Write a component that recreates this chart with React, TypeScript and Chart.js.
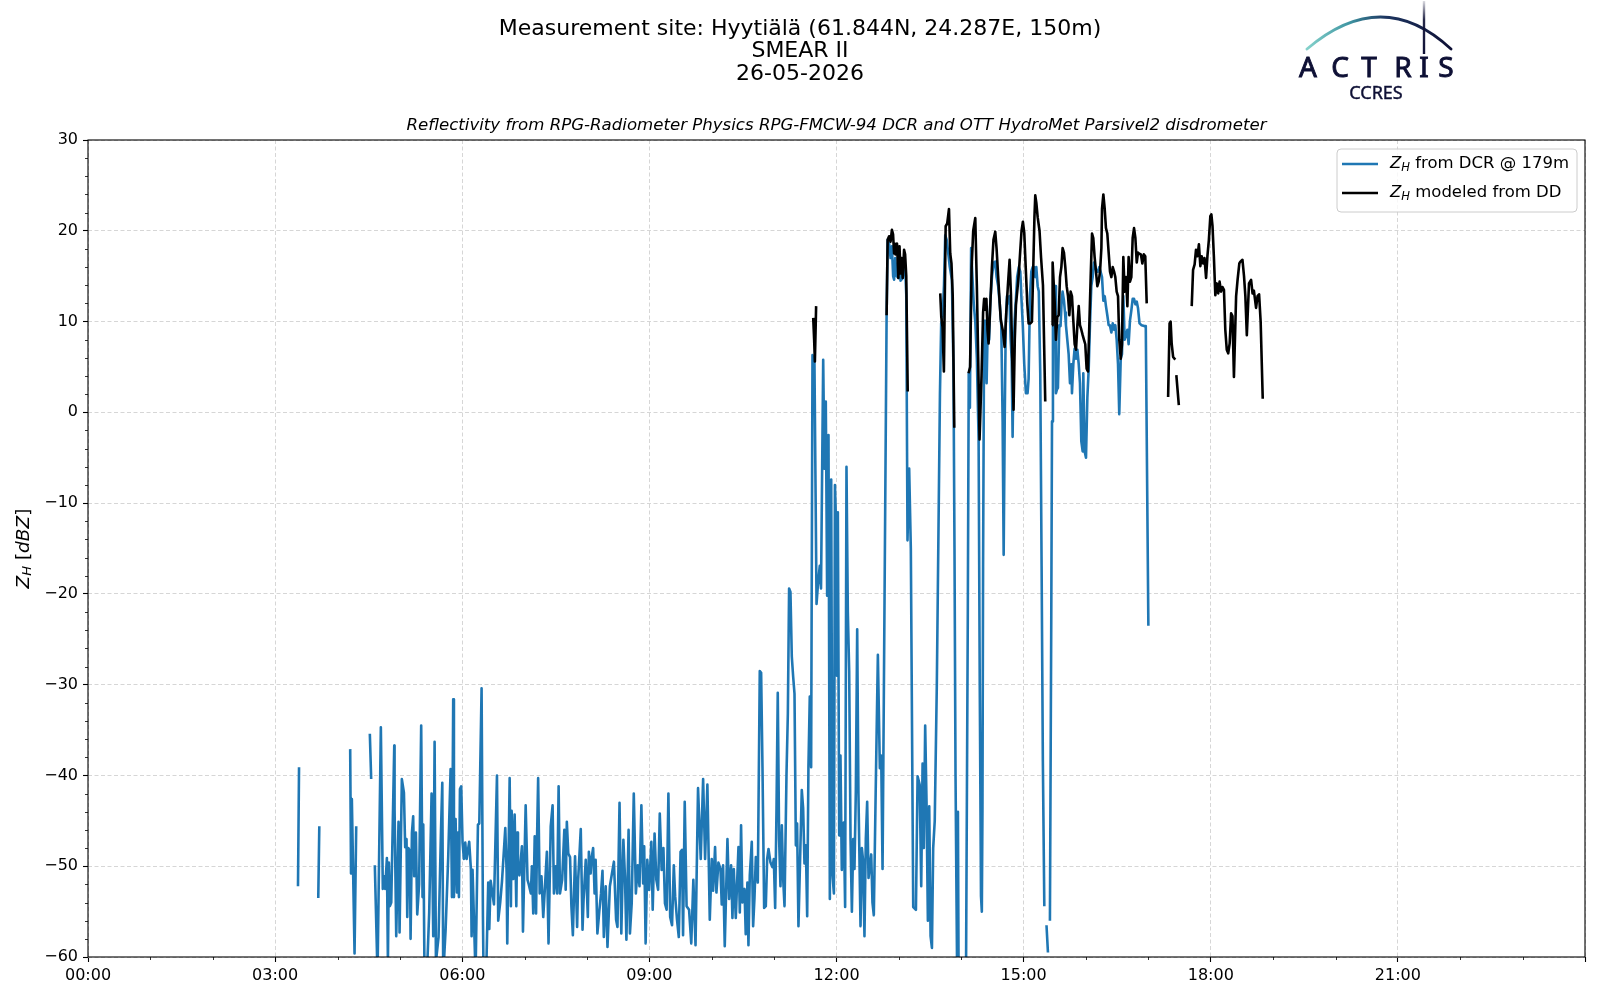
import React, { useEffect, useRef } from 'react';
import { Chart, registerables } from 'chart.js';

Chart.register(...registerables);

// ---------- DATA (time in minutes since 00:00, reflectivity in dBZ) ----------
// DCR (blue) runs, separated by data gaps
const dcrRun1 = [[202, -52.2], [203, -39.1]];
const dcrRun2 = [[221.5, -53.5], [222.5, -45.6]];
const dcrRun3 = [[252.2, -37.1], [253, -50.8], [253.8, -42.6], [256.4, -59.6], [258, -45.6]];
const dcrRun4 = [[271.1, -35.4], [272.4, -40.4]];
const dcrMorning = [
  [275.9, -49.9], [278.5, -62], [281.7, -34.7], [283.6, -52.5], [284.9, -51.1], [285.9, -52.5], [287.5, -49.1], [288.5, -60.5],
  [289.4, -49.6], [290.4, -54.4], [291.7, -54], [294.6, -36.7], [294.9, -43.7], [296.5, -57.7], [298.7, -45.1], [299.7, -57.3],
  [301.9, -40.4], [303.9, -41.9], [305.1, -47.9], [306.4, -47], [307.1, -55.6], [308.2, -48], [309.6, -48.3], [310.3, -58],
  [311.6, -46.3], [312.8, -44.5], [313.8, -51.1], [315.4, -46.3], [316.7, -55.3], [318.5, -52], [320.5, -34.5], [321.8, -53.4],
  [322.5, -45.4], [323.7, -62], [326, -62], [328.2, -55.1], [330.5, -42], [332.1, -57.7], [333.4, -36.3], [334.7, -60.5],
  [337.2, -57.8], [339.5, -46.3], [340.8, -40.8], [341.7, -62], [344, -57], [346.5, -49], [348.8, -39.3], [350.1, -53.4],
  [351.3, -31.6], [352, -53.4], [353.6, -44.8], [354.9, -52.9], [355.8, -46.3], [356.8, -53.4], [357.8, -41.5], [359, -41.2],
  [360.3, -47.4], [361.6, -49.2], [362.9, -47.4], [364.2, -49.2], [366.7, -47.3], [368.3, -50.3], [369, -57.7], [369.9, -50.4],
  [372.8, -62], [375.1, -45.4], [376.4, -45.3], [378.6, -30.4], [379.9, -55.6], [380.5, -62], [383, -62], [385, -51.8],
  [386, -56.9], [387.3, -51.6], [390.5, -54.2], [393.4, -40], [394.6, -56], [396.5, -54], [398.2, -51.7], [401.4, -45.8],
  [402.7, -50.7], [403.3, -58.5], [405.6, -40.3], [406.8, -54.4], [407.5, -43.9], [409.1, -51.4], [410.4, -44.3], [412, -54.4],
  [412.9, -46.3], [413.6, -50.4], [415, -51], [417.4, -47.8], [418.4, -57.2], [421, -43.3], [422.8, -51.5], [424, -52],
  [426, -53], [427, -50], [428.3, -55.2], [429.7, -46.7], [431, -55.2], [432, -46.7], [433, -40.3], [434.5, -53],
  [436.2, -51.1], [437.9, -55.6], [439.6, -52.2], [441.4, -48.4], [443, -58.5], [445.1, -45.6], [446.9, -43.3], [448.2, -53],
  [450, -50], [451.3, -53], [452.7, -41.2], [454, -53], [456.1, -51.5], [458.2, -46], [459.5, -52.6], [460.6, -45.1],
  [462, -48.6], [463.7, -49], [465, -54.4], [466.4, -57.6], [468.5, -48.9], [470.5, -56.7], [471.5, -51.5], [474, -45.9],
  [475.7, -57], [476.7, -53.7], [478.8, -49.3], [480.8, -55.6],
];
const dcrLateMorning = [
  [481.8, -48.4], [483.5, -50.8], [484.2, -49.3], [485.9, -48], [487.3, -53], [488.3, -49.3], [490, -57.4], [491.8, -55],
  [493.5, -53], [494.9, -50.5], [496.2, -57.8], [498, -52.2], [499.7, -58.9], [502, -52.2], [504, -50.8], [505.9, -49.5],
  [508, -55.9], [509.3, -56.7], [511.3, -43], [513, -57.4], [515, -47.1], [516.5, -51.1], [517.9, -58.1], [520, -46],
  [521.3, -57.4], [523, -54.1], [525, -42], [527, -53], [528.8, -49.9], [530.5, -52.2], [532.3, -43.3], [534, -51.9],
  [535, -47.8], [536.4, -58.5], [538, -49.3], [539.8, -52.6], [541.9, -47.3], [543.2, -54.8], [545, -46.4], [546.7, -51.5],
  [548.4, -52.6], [550, -44.2], [551.8, -50.4], [553.5, -48], [555, -54.1], [556.6, -54.8], [558.3, -42], [560, -55.6],
  [561.8, -56.5], [563.5, -49.9], [564.8, -53.3], [566.6, -55.9], [568.3, -57.8], [570, -48.4], [571.4, -48.2], [572.4, -57.6],
  [574, -42.9], [575.8, -54.4], [578.2, -54.8], [580.3, -58.5], [582.3, -51.5], [584.4, -58.7], [586.8, -41.4], [589.4, -49.2],
  [591.7, -40.4], [593.6, -49.2], [595.8, -41], [598.1, -55.9], [600, -49.2], [601.3, -52.7], [603.2, -47.9], [604.5, -52.9],
  [606.4, -49.6], [608.4, -50.3], [609.6, -54.2], [610.9, -49.9], [612.5, -58.8], [615.1, -47], [616.7, -53.6], [618.6, -49.9],
  [619.9, -55.7], [621.2, -50.3], [623.1, -55.7], [625.7, -47.9], [627, -55.1], [628.2, -45.5], [629.5, -54], [631.5, -52.5],
  [632.7, -57.5], [634.3, -51.8], [635.3, -58.7], [636.6, -51], [638.5, -47.3], [639.8, -56.6], [641.1, -53.5], [642.4, -49],
  [644.3, -51.8],
];
const dcrNoon = [
  [646.2, -28.5], [647.5, -28.7], [648.8, -39.1], [650.4, -54.6], [652, -54.4], [653.3, -49.2], [654.6, -48.1], [656.5, -49.6],
  [658.4, -50.1], [659.7, -49.2], [661, -54.6], [662.3, -43.6], [663.5, -30.9], [664.8, -47], [666.1, -52.2], [667.4, -45.5],
  [668.7, -51.4], [670, -54.4], [671.9, -39.9], [673.2, -33.2], [674.4, -19.4], [675.7, -19.8], [677, -26.9], [678.3, -29.1],
  [679.6, -31], [680.9, -47.7], [682.1, -45.3], [683.4, -56.6], [685.4, -47.3], [686.6, -41.6], [687.9, -43.6], [689.2, -49.7],
  [690.5, -47.7], [691.8, -55.5], [693, -39.1], [694.3, -31.3], [695.6, -39.1], [696.9, 6.3], [698.8, 5.4], [700.8, -21.1],
  [702, -19.2], [703.9, -16.9], [705.1, -19.4], [707.2, 5.8], [708.4, -6.2], [709.7, 1.2], [711, -20.2], [712.3, -2.5],
  [713.6, -53.6], [714.9, -7.4], [716.1, -50.9], [717.5, -53], [718.5, -8], [719.5, -12], [720.3, -29], [721.3, -11],
  [722.6, -46.6], [723.8, -37.8], [725.1, -50.4], [727, -45.2], [728.3, -54.5], [729.6, -6], [730.9, -22], [732.2, -28.5],
  [733.5, -47], [734.8, -55], [736.1, -47], [737.3, -50.3], [738.6, -41.7], [739.9, -23.9], [741.1, -42], [743.1, -56.6],
  [744.4, -48], [745.6, -49.4], [746.9, -57.7], [748.2, -47], [749.5, -42.9], [750.8, -51.3], [753.4, -48.7], [754.6, -54],
  [755.9, -55.4], [757.8, -41], [759.8, -26.7], [761.7, -39.2], [763, -37.8], [764.3, -50.3], [765.5, -31.8],
];
const dcrAfternoon = [
  [768.2, 10.7], [769.2, 19], [770.6, 18.6], [772, 17], [773.3, 18.3], [774.5, 15], [775.4, 14.6], [776.5, 17],
  [778, 15], [779.5, 14.8], [780.6, 17.5], [781.6, 14.5], [783.7, 14.8], [785, 17], [786, 16], [787.1, 13],
  [788.3, -14.1], [789.9, -6.2], [791.5, -15], [793.8, -54.5], [796.4, -54.8], [798, -40.1], [800, -41], [801.5, -52.2],
  [802.8, -38.7], [804, -48], [805.3, -34.5], [806.6, -42.9], [807.9, -56], [809.2, -43.4], [810.5, -57.7], [811.8, -59],
  [813, -48], [814.5, -45], [816.5, -30], [818, -14], [819.5, 2], [820.7, 9.8], [822, 10.5], [823.4, 14],
  [824.6, 19.5], [826, 19], [827.5, 17.5], [829, 16], [831, 14.6], [832.5, 5], [833.5, -15], [834.5, -40],
  [835.5, -54.4], [836.2, -64], [836.8, -44], [837.5, -64], [844.5, -64], [846.3, -22.4], [847.2, 4.3], [848.3, 0.5],
  [849.5, 18.1], [850.7, 15], [852, 12], [853.5, 10], [855, 6], [856.7, -3], [857.8, -30], [859, -53.3],
  [859.8, -55], [860.4, -43.7], [861, -17], [862, 9.6], [863, 10.1], [864.4, 3.2], [865.5, 9.6], [866.8, 8],
  [868, 12.3], [869.6, 15], [871.2, 16.5], [872.7, 16.6], [874, 14.9], [875.5, 13.9], [877, 12], [878.5, 9.6],
  [879.8, -1], [880.8, -15.7], [881.8, -1], [882.8, 9.6], [884, 12.8], [885.2, 12], [886.4, 12.8], [887.5, 8],
  [888.5, 5.9], [889.4, -2.7], [890.3, 5.3], [891.3, 10.1], [892.5, 12.3], [893.8, 14.9], [895.4, 16], [896.8, 15.5],
  [898, 12.3], [899.2, 9.6], [900.6, 5.3], [902.2, 2.1], [903.8, 2.1], [904.8, 3.7], [906.1, 12.8], [907.4, 15.5],
  [908.7, 16], [910, 16], [911.2, 14.9], [912.2, 16], [913.5, 13.9], [914.6, 13.3], [916, 4.3], [917.3, -17],
  [918.5, -38.4], [919.9, -54.4],
];
const dcrRun6 = [[922, -56.5], [923.4, -59.5]];
const dcrEvening = [
  [925.3, -56], [926.6, -22.4], [927.3, -1], [928.2, 9.6], [929.2, 7.5], [930.2, 13.9], [931.1, 2.1], [932, 2.5],
  [933, 2.7], [934.3, 9.6], [935.5, 9.5], [936.6, 12.3], [937.5, 13.3], [938.8, 12.3], [939.8, 11], [940.7, 9.6],
  [942, 8], [943.3, 6.4], [944.6, 3.2], [945.9, 5.3], [946.5, 2.1], [947.8, 5.3], [949, 7], [950.4, 5.9],
  [951.7, 6.9], [953, 5.3], [954.2, 3.2], [955.5, -3.2], [956.8, -4.3], [957.4, 4.3], [958.7, -4.3], [960, -5],
  [961.3, 1.6], [962.6, 4.8], [963.8, 9.6], [965.1, 13.9], [966.4, 14.9], [967.7, 16.5], [969, 16], [970.2, 15.5],
  [971.5, 15.5], [972.8, 16], [974, 15.5], [975.4, 14.9], [976.7, 12.3], [978, 12.8], [979.2, 11.7], [980.5, 10.7],
  [981.8, 9.6], [983, 9.6], [984.4, 8.8], [985.7, 9.8], [987, 9.1], [988.2, 9.6], [989.5, 8], [990.8, 5.3],
  [992, -0.2], [993.4, 5.9], [994.6, 6.4], [995.9, 12.8], [997.2, 8], [998.5, 8.5], [999.8, 9.1], [1001, 7.5],
  [1002.3, 10.1], [1003.6, 11.2], [1004.9, 12.5], [1006.2, 12.5], [1007.5, 11.9], [1008.8, 12.2], [1010, 11.5], [1011.5, 9.8],
  [1013.5, 9.6], [1016, 9.5], [1017.5, 9.5], [1020, -23.5],
];

// Disdrometer-modelled (black) runs
const ddRun1 = [[697.6, 10.4], [698.5, 8.0], [699.2, 5.6], [700.4, 11.7]];
const ddRun2 = [
  [768.2, 10.7], [769.2, 19], [770.6, 19.4], [772, 18.8], [773.3, 20.1], [774.4, 19.6], [775.4, 17.5], [776, 18.6],
  [776.8, 17.4], [778.2, 18.6], [779.5, 14.8], [780.6, 18.3], [781.6, 15.3], [782.6, 17], [783.7, 14.8], [785, 17.9],
  [786, 17.4], [787.1, 15], [788.5, 2.3],
];
const ddRun3 = [
  [819.8, 13.1], [820.8, 10.5], [822, 9.4], [823.3, 4.5], [825, 20.5], [826.5, 20.8], [828.2, 22.4], [829.4, 17.5],
  [830.6, 16.4], [831.8, 12.8], [833.3, -1.7],
];
const ddRun4 = [
  [847, 4.3], [848.5, 5], [850, 16], [851.5, 20], [853.5, 21.4], [855, 14], [856.3, 6], [857.6, -3],
  [859.5, 4], [861, 11], [862, 12.5], [863, 11.3], [864.2, 12.5], [865.3, 9], [866.3, 7.6], [868, 12],
  [869.5, 16], [871, 19], [872.7, 19.9], [874, 18], [875.5, 15], [877, 12], [878, 10.2], [880, 9],
  [881.7, 7.2], [883.3, 11], [885, 14.2], [886.5, 16.8], [887.8, 13], [889, 6], [890.3, 0.3], [891.5, 8],
  [892.6, 11.8], [894, 13.5], [895.5, 15.5], [896.8, 17.9], [898, 20], [899.3, 21], [900.6, 19.8], [902, 16],
  [903.5, 12], [904.8, 9.8], [906.5, 9.8], [908, 10], [909.3, 16], [910.4, 21.5], [911.2, 23.9], [912.3, 23],
  [913.5, 21.5], [915.3, 20], [916.8, 17], [918.6, 14], [919.8, 7], [920.8, 1.2],
];
const ddRun5 = [
  [927.3, 9.6], [927.9, 16.5], [929.8, 12.3], [931.1, 8], [932.4, 10.5], [933.7, 10.7], [935, 14.9], [936.3, 16],
  [937.5, 18.1], [938.8, 17.6], [940.1, 16], [941.4, 13.9], [942.7, 12.8], [944, 10.7], [945.2, 13.3], [946.5, 12.8],
  [947.8, 10.1], [949.1, 7.5], [950.4, 6.9], [951.7, 9.6], [953, 11.7], [954.2, 9.6], [955.5, 9.1], [956.8, 8.5],
  [958, 8], [959.3, 7.5], [960.6, 4.8], [961.9, 4.5], [963.2, 9.6], [964.5, 14.9], [965.8, 19.7], [967, 19.2],
  [968.3, 17.1], [969.6, 15.5], [970.9, 13.9], [972.2, 14.4], [973.5, 15.5], [974.8, 18.1], [975.4, 22.4], [976.7, 24],
  [978, 22.4], [979.2, 20.3], [980.5, 19.7], [981.8, 17.6], [983.1, 15.5], [984.4, 14.9], [985.7, 16], [987, 15.5],
  [988.2, 14.9], [989.5, 13.3], [990.8, 12.8], [992, 8], [993.4, 5.9], [994.6, 7.5], [995.9, 17.1], [997.2, 13.3],
  [998.5, 14.9], [999.8, 11.7], [1001, 17.1], [1002.3, 14.4], [1003.6, 14.9], [1004.9, 19.2], [1006.2, 20.3], [1007.5, 19.2],
  [1008.8, 16.5], [1010, 17.6], [1010.8, 17.5], [1012.8, 17.4], [1014.2, 16.4], [1015.6, 17.4], [1017, 17.2], [1018.4, 12],
];
const ddRun6 = [[1039, 1.7], [1040.4, 9.8], [1041.4, 10], [1042.4, 7.6], [1043.8, 6.1], [1045.9, 5.8]];
const ddRun7 = [[1046.9, 4.1], [1049.3, 0.8]];
const ddRun8 = [
  [1061.7, 11.7], [1063, 15.7], [1064.5, 16.3], [1065.8, 17.9], [1067.2, 17.2], [1068.6, 18.5], [1070, 16.1], [1071.3, 17.2],
  [1072.7, 16.4], [1074, 17], [1075.5, 14.8], [1076.8, 17.2], [1078.2, 19], [1079.6, 21.6], [1080.6, 21.8], [1081.7, 20.5],
  [1083, 17.2], [1084.4, 12.9], [1085.8, 14.2], [1087.2, 13.1], [1088.5, 14.4], [1089.9, 13.3], [1091.3, 13.8], [1092.7, 13.5],
  [1094, 9.1], [1095.4, 6.9], [1096.8, 6.5], [1098.2, 7.6], [1099.6, 10.9], [1100.9, 10.6], [1102.3, 3.9], [1104.4, 12.8],
  [1105.8, 14.6], [1107.5, 16.4], [1108.5, 16.6], [1110.5, 16.8], [1112, 15], [1113.3, 12.8], [1114.7, 8.5], [1116.8, 14.2],
  [1118.8, 14.6], [1120.2, 13.1], [1121.5, 13.4], [1123.6, 11.5], [1125, 12.8], [1126.5, 13], [1128, 10], [1130, 1.5],
];

const xTickLabels = ['00:00', '03:00', '06:00', '09:00', '12:00', '15:00', '18:00', '21:00'];
const titleLines = ['Measurement site: Hyytiälä (61.844N, 24.287E, 150m)', 'SMEAR II', '26-05-2026'];
const subTitle = 'Reflectivity from RPG-Radiometer Physics RPG-FMCW-94 DCR and OTT HydroMet Parsivel2 disdrometer';
const legendTexts = [' from DCR @ 179m', ' modeled from DD'];
const seriesColors = ['#1f77b4', '#000000'];

// ---------- helpers ----------
const FONT = '"DejaVu Sans", sans-serif';

function toPoints(runs: number[][][]) {
  const out: { x: number; y: number | null }[] = [];
  runs.forEach((run, i) => {
    if (i > 0) {
      const prev = runs[i - 1][runs[i - 1].length - 1][0];
      out.push({ x: (prev + run[0][0]) / 2, y: null });
    }
    run.forEach(([x, y]) => out.push({ x, y }));
  });
  return out;
}

type Run = { t: string; s: number; i?: boolean; dy?: number };
function setFont(ctx: CanvasRenderingContext2D, r: Run) {
  ctx.font = `${r.i ? 'italic ' : ''}${r.s}px ${FONT}`;
}
function runsWidth(ctx: CanvasRenderingContext2D, runs: Run[]) {
  let w = 0;
  runs.forEach((r) => { setFont(ctx, r); w += ctx.measureText(r.t).width; });
  return w;
}
function drawRuns(ctx: CanvasRenderingContext2D, runs: Run[], x: number, y: number) {
  runs.forEach((r) => {
    setFont(ctx, r);
    ctx.fillText(r.t, x, y + (r.dy || 0));
    x += ctx.measureText(r.t).width;
  });
}
function zh(size: number, rest: string, restItalic = false): Run[] {
  return [
    { t: 'Z', s: size, i: true },
    { t: 'H', s: size * 0.7, i: true, dy: size * 0.22 },
    { t: rest, s: size, i: restItalic },
  ];
}
function fmtTime(v: number) {
  const idx = Math.round(v / 180);
  return idx < xTickLabels.length ? xTickLabels[idx] : '';
}

const decorPlugin = {
  id: 'decor',
  beforeDraw(chart: any) {
    const { ctx, width, height } = chart;
    ctx.save();
    ctx.fillStyle = '#ffffff';
    ctx.fillRect(0, 0, width, height);
    ctx.restore();
  },
  afterDatasetsDraw(chart: any) {
    const { ctx, chartArea: a, scales } = chart;
    ctx.save();
    // minor ticks
    ctx.strokeStyle = '#000';
    ctx.lineWidth = 0.8;
    ctx.beginPath();
    for (let m = 60; m < 1440; m += 60) {
      if (m % 180 === 0) continue;
      const px = Math.round(scales.x.getPixelForValue(m)) + 0.5;
      ctx.moveTo(px, a.bottom);
      ctx.lineTo(px, a.bottom + 3);
    }
    for (let v = -58; v < 30; v += 2) {
      if (v % 10 === 0) continue;
      const py = Math.round(scales.y.getPixelForValue(v)) + 0.5;
      ctx.moveTo(a.left, py);
      ctx.lineTo(a.left - 3, py);
    }
    ctx.stroke();
    // frame
    ctx.lineWidth = 1.1;
    ctx.strokeRect(a.left, a.top, a.right - a.left, a.bottom - a.top);
    ctx.restore();
  },
  afterDraw(chart: any) {
    const { ctx, chartArea: a } = chart;
    ctx.save();
    ctx.fillStyle = '#000';
    ctx.textBaseline = 'middle';
    ctx.textAlign = 'center';
    // suptitle
    ctx.font = `22px ${FONT}`;
    ctx.fillText(titleLines[0], 800, 29);
    ctx.fillText(titleLines[1], 800, 51.5);
    ctx.fillText(titleLines[2], 800, 74.5);
    // axes title
    ctx.font = `italic 16.6px ${FONT}`;
    ctx.fillText(subTitle, (a.left + a.right) / 2, 126);

    // y label
    ctx.textAlign = 'left';
    const yl: Run[] = [
      { t: 'Z', s: 18.5, i: true },
      { t: 'H', s: 13, i: true, dy: 4 },
      { t: ' [', s: 18.5 },
      { t: 'dBZ', s: 18.5, i: true },
      { t: ']', s: 18.5 },
    ];
    const w = runsWidth(ctx, yl);
    ctx.save();
    ctx.translate(24, (a.top + a.bottom) / 2);
    ctx.rotate(-Math.PI / 2);
    drawRuns(ctx, yl, -w / 2, 0);
    ctx.restore();

    // legend
    const lx = 1337, ly = 149, lw = 240, lh = 63, r = 4;
    ctx.beginPath();
    ctx.moveTo(lx + r, ly);
    ctx.lineTo(lx + lw - r, ly);
    ctx.quadraticCurveTo(lx + lw, ly, lx + lw, ly + r);
    ctx.lineTo(lx + lw, ly + lh - r);
    ctx.quadraticCurveTo(lx + lw, ly + lh, lx + lw - r, ly + lh);
    ctx.lineTo(lx + r, ly + lh);
    ctx.quadraticCurveTo(lx, ly + lh, lx, ly + lh - r);
    ctx.lineTo(lx, ly + r);
    ctx.quadraticCurveTo(lx, ly, lx + r, ly);
    ctx.closePath();
    ctx.fillStyle = 'rgba(255,255,255,0.8)';
    ctx.fill();
    ctx.strokeStyle = '#cccccc';
    ctx.lineWidth = 1;
    ctx.stroke();
    legendTexts.forEach((txt, i) => {
      const cy = 164 + i * 29;
      ctx.strokeStyle = seriesColors[i];
      ctx.lineWidth = 2.6;
      ctx.beginPath();
      ctx.moveTo(1342, cy);
      ctx.lineTo(1378, cy);
      ctx.stroke();
      ctx.fillStyle = '#000';
      ctx.textBaseline = 'middle';
      drawRuns(ctx, zh(16.5, txt), 1390, cy);
    });

    // ACTRIS logo
    const g = ctx.createLinearGradient(1306, 0, 1451, 0);
    g.addColorStop(0, '#86d3cc');
    g.addColorStop(0.3, '#3f95a2');
    g.addColorStop(0.55, '#1d3560');
    g.addColorStop(1, '#0e1035');
    ctx.strokeStyle = g;
    ctx.lineWidth = 2.8;
    ctx.lineCap = 'round';
    ctx.beginPath();
    ctx.moveTo(1307, 49);
    ctx.quadraticCurveTo(1382, -15, 1451, 49);
    ctx.stroke();
    const gv = ctx.createLinearGradient(0, 1, 0, 54);
    gv.addColorStop(0, 'rgba(14,16,53,0.15)');
    gv.addColorStop(0.35, 'rgba(14,16,53,0.9)');
    gv.addColorStop(1, '#0e1035');
    ctx.strokeStyle = gv;
    ctx.lineWidth = 2.4;
    ctx.lineCap = 'butt';
    ctx.beginPath();
    ctx.moveTo(1424, 1);
    ctx.lineTo(1424, 54);
    ctx.stroke();
    ctx.fillStyle = '#0e1035';
    ctx.strokeStyle = '#0e1035';
    ctx.lineWidth = 0.9;
    ctx.textAlign = 'center';
    ctx.textBaseline = 'alphabetic';
    ctx.font = `28px "Noto Sans", ${FONT}`;
    const letters = ['A', 'C', 'T', 'R', 'I', 'S'];
    const centers = [1308, 1340, 1369, 1403, 1424, 1446];
    letters.forEach((ch, i) => {
      ctx.fillText(ch, centers[i], 77);
      ctx.strokeText(ch, centers[i], 77);
    });
    ctx.font = `18px "Noto Sans", ${FONT}`;
    ctx.lineWidth = 0.4;
    ctx.fillText('CCRES', 1376, 98.5);
    ctx.strokeText('CCRES', 1376, 98.5);
    ctx.restore();
  },
};

export default function App() {
  const canvasRef = useRef<HTMLCanvasElement | null>(null);

  useEffect(() => {
    document.body.style.margin = '0';
    const canvas = canvasRef.current;
    if (!canvas) return;
    const tickFont = { family: FONT, size: 16 };
    const lineStyle = {
      borderWidth: 2.6,
      pointRadius: 0,
      tension: 0,
      spanGaps: false,
      fill: false,
      borderJoinStyle: 'round',
      borderCapStyle: 'butt',
      clip: 0,
    };
    const chart = new Chart(canvas, {
      type: 'line',
      data: {
        datasets: [
          {
            label: 'ZH from DCR @ 179m',
            data: toPoints([dcrRun1, dcrRun2, dcrRun3, dcrRun4, [...dcrMorning, ...dcrLateMorning, ...dcrNoon, ...dcrAfternoon], dcrRun6, dcrEvening]),
            borderColor: seriesColors[0],
            ...lineStyle,
            order: 2,
          },
          {
            label: 'ZH modeled from DD',
            data: toPoints([ddRun1, ddRun2, ddRun3, ddRun4, ddRun5, ddRun6, ddRun7, ddRun8]),
            borderColor: seriesColors[1],
            ...lineStyle,
            order: 1,
          },
        ],
      } as any,
      options: {
        responsive: false,
        animation: false,
        devicePixelRatio: 1,
        layout: { padding: { top: 140, right: 15, left: 0, bottom: 0 } },
        plugins: { legend: { display: false }, tooltip: { enabled: false }, title: { display: false } },
        events: [],
        scales: {
          x: {
            type: 'linear',
            min: 0,
            max: 1440,
            ticks: {
              stepSize: 180,
              autoSkip: false,
              maxRotation: 0,
              padding: 4,
              color: '#000',
              font: tickFont,
              callback: (v: any) => fmtTime(Number(v)),
            },
            grid: { color: '#d6d6d6', lineWidth: 1, tickColor: '#000', tickLength: 5, tickWidth: 1.1 },
            border: { display: false, dash: [4, 2.5] },
            afterFit: (s: any) => { s.height = 43; },
          },
          y: {
            type: 'linear',
            min: -60,
            max: 30,
            ticks: {
              stepSize: 10,
              padding: 5,
              color: '#000',
              font: tickFont,
              callback: (v: any) => (Number(v) < 0 ? '\u2212' + Math.abs(Number(v)) : String(v)),
            },
            grid: { color: '#d6d6d6', lineWidth: 1, tickColor: '#000', tickLength: 5, tickWidth: 1.1 },
            border: { display: false, dash: [4, 2.5] },
            afterFit: (s: any) => { s.width = 88; },
          },
        },
      } as any,
      plugins: [decorPlugin],
    });
    return () => chart.destroy();
  }, []);

  return (
    <div style={{ width: 1600, height: 1000 }}>
      <canvas ref={canvasRef} width={1600} height={1000} style={{ display: 'block', width: 1600, height: 1000 }} />
    </div>
  );
}
